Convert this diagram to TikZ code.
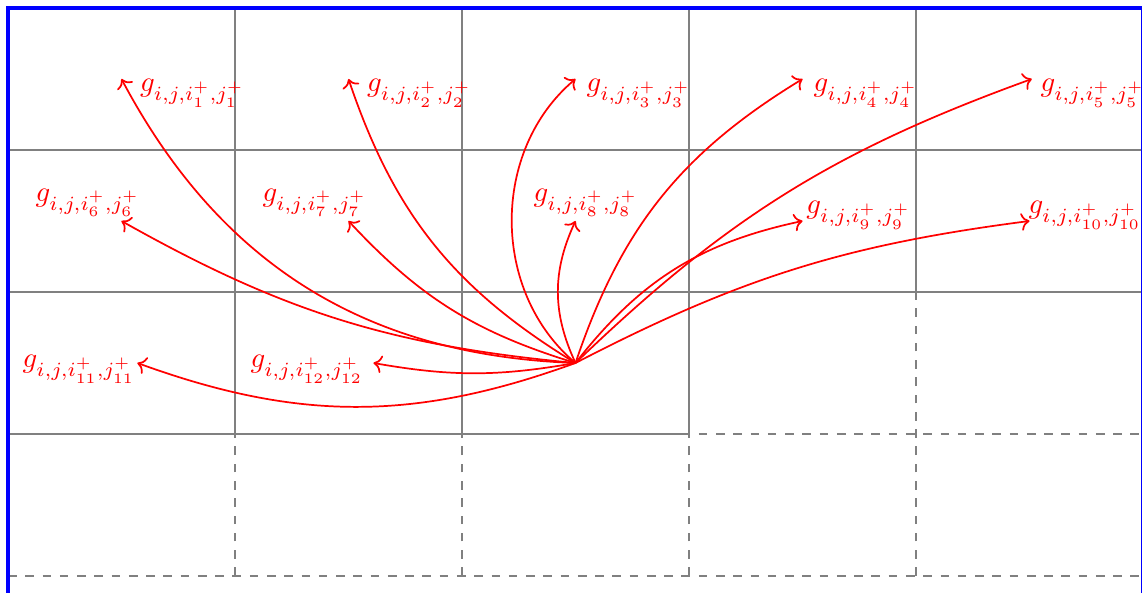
\documentclass[tikz,border=0pt]{standalone}
\usepackage{amsmath}
\usepackage{xcolor}
\usepackage{tikz}
\usetikzlibrary{arrows.meta, calc}

\begin{document}
\begin{tikzpicture}[x=2.772cm, y=1.734cm,
        lbl/.style={red, inner sep=0pt, anchor=base west},
        arr/.style={->, red, semithick}]
        % Page frame
        \useasboundingbox (-0.0352,0.0563) rectangle (4.9956,-4.1197);
        \clip (-0.0352,0.0563) rectangle (4.9956,-4.1197);

        % Grid: dashed everywhere, solid on the upper cells
        \draw[dashed, gray, step={(1,1)}] (0,0) grid (5,-4);
        \draw[gray, step={(1,1)}] (0,0) grid (5,-2);
        \draw[gray, step={(1,1)}] (0,-2) grid (3,-3);

        % Border
        \draw[very thick, blue] (0,-4.5) -- (0,0) -- (5,0) -- (5,-4.5);

        % Source cell and arrow ends
        \coordinate (src) at (2.5,-2.5);
        \coordinate (t1) at (0.5,-0.5);
        \coordinate (t2) at (1.5,-0.5);
        \coordinate (t3) at (2.5,-0.5);
        \coordinate (t4) at (3.5,-0.5);
        \coordinate (t5) at (4.51,-0.5);
        \coordinate (t6) at (0.5,-1.5);
        \coordinate (t7) at (1.5,-1.5);
        \coordinate (t8) at (2.5,-1.5);
        \coordinate (t9) at (3.5,-1.5);
        \coordinate (t10) at (4.5,-1.5);
        \coordinate (t11) at (0.57,-2.5);
        \coordinate (t12) at (1.61,-2.5);

        % Labels
        \node[lbl] (g1) at (0.58,-0.59) {$g_{i,j,i_1^+,j_1^+}$};
        \node[lbl] (g2) at (1.58,-0.59) {$g_{i,j,i_2^+,j_2^+}$};
        \node[lbl] (g3) at (2.546,-0.59) {$g_{i,j,i_3^+,j_3^+}$};
        \node[lbl] (g4) at (3.546,-0.59) {$g_{i,j,i_4^+,j_4^+}$};
        \node[lbl] (g5) at (4.546,-0.59) {$g_{i,j,i_5^+,j_5^+}$};
        \node[lbl] (g6) at (0.119,-1.36) {$g_{i,j,i_6^+,j_6^+}$};
        \node[lbl] (g7) at (1.119,-1.36) {$g_{i,j,i_7^+,j_7^+}$};
        \node[lbl] (g8) at (2.313,-1.36) {$g_{i,j,i_8^+,j_8^+}$};
        \node[lbl] (g9) at (3.515,-1.45) {$g_{i,j,i_9^+,j_9^+}$};
        \node[lbl] (g10) at (4.493,-1.45) {$g_{i,j,i_{10}^+,j_{10}^+}$};
        \node[lbl] (g11) at (0.062,-2.535) {$g_{i,j,i_{11}^+,j_{11}^+}$};
        \node[lbl] (g12) at (1.066,-2.535) {$g_{i,j,i_{12}^+,j_{12}^+}$};

        % Arrows out of the source cell
        \draw[arr] (src) to[bend left=30] (t1);
        \draw[arr] (src) to[bend left=20] (t2);
        \draw[arr] (src) to[bend left=50] (t3);
        \draw[arr] (src) to[bend left=20] (t4);
        \draw[arr] (src) to[bend left=12] (t5);
        \draw[arr] (src) to[bend left=12] (t6);
        \draw[arr] (src) to[bend left=15] (t7);
        \draw[arr] (src) to[bend left=25] (t8);
        \draw[arr] (src) to[bend left=20] (t9);
        \draw[arr] (src) to[bend left=10] (t10);
        \draw[arr] (src) to[bend left=20] (t11);
        \draw[arr] (src) to[bend left=10] (t12);
\end{tikzpicture}
\end{document}
